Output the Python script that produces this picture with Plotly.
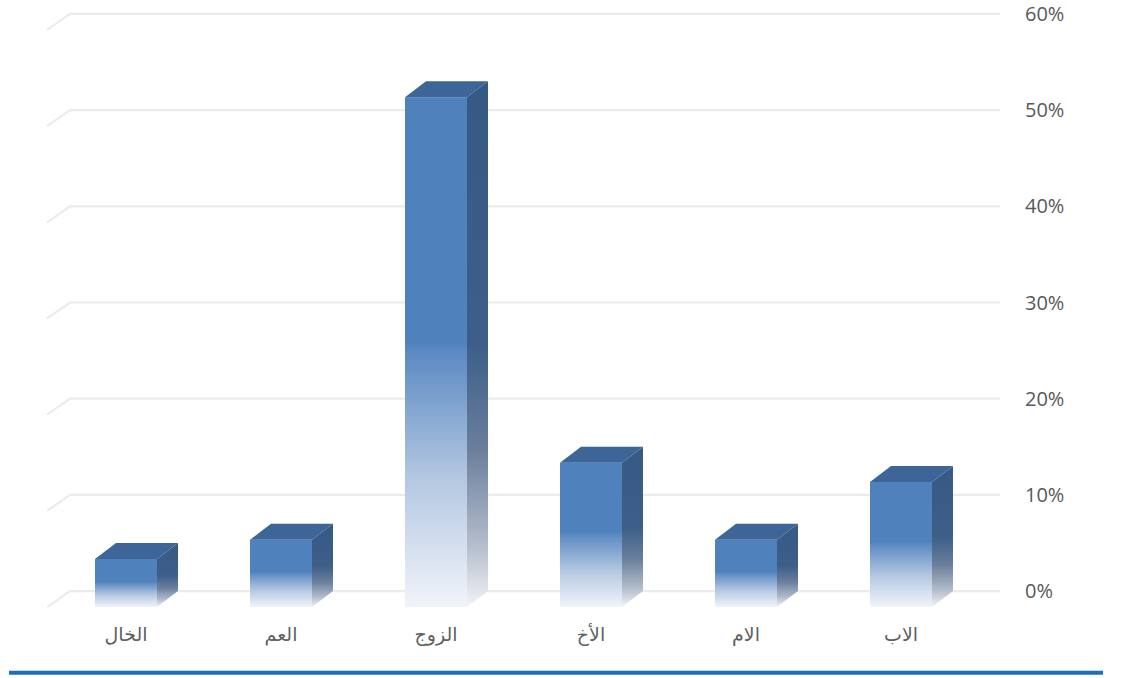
import plotly.graph_objects as go

# ---- data ----
categories = ["الخال", "العم", "الزوج", "الأخ", "الام", "الاب"]
values = [0.05, 0.07, 0.53, 0.15, 0.07, 0.13]
tick_values = [0, 0.1, 0.2, 0.3, 0.4, 0.5, 0.6]
tick_labels = ["0%", "10%", "20%", "30%", "40%", "50%", "60%"]

# ---- geometry (in data units) ----
HALF_W = 0.2      # half width of front face (category units)
DX = 0.1355       # depth offset in x
DY = 0.0166       # depth offset in y
PX_PER_UNIT = 965.0
TOP_M, BOT_M = 0, 66
Y_RANGE = [(591 - (678 - BOT_M)) / PX_PER_UNIT, (591 - TOP_M) / PX_PER_UNIT]
X_RANGE = [-0.6839, 5.6387]

FRONT = "#4F81BD"
SIDE = "#375A85"
TOP = "#3E6597"

front_scale = [[0.0, "#F1F4FA"], [0.25, "#B4C8E2"], [0.5, "#5C8AC3"], [0.52, FRONT], [1.0, FRONT]]
side_scale = [[0.0, "#F2F3F6"], [0.12, "#B2BCCB"], [0.3, "#6A7F9C"], [0.5, "#3C5E88"], [1.0, SIDE]]

fig = go.Figure()

# gridlines on back wall + left wall diagonal
grid_x_front = -0.5097
grid_x_back = -0.3613
for t in tick_values:
    fig.add_trace(go.Scatter(
        x=[grid_x_front, grid_x_back, X_RANGE[1]],
        y=[t - DY, t, t],
        mode="lines",
        line=dict(color="#EBEBEB", width=2.2),
        hoverinfo="skip", showlegend=False, cliponaxis=False,
    ))

for i, v in enumerate(values):
    xl, xr = i - HALF_W, i + HALF_W
    # side face
    fig.add_trace(go.Scatter(
        x=[xr, xr + DX, xr + DX, xr, xr],
        y=[-DY, 0, v, v - DY, -DY],
        mode="lines", line=dict(width=0), fill="toself",
        fillgradient=dict(type="vertical", colorscale=side_scale),
        hoverinfo="skip", showlegend=False,
    ))
    # front face
    fig.add_trace(go.Scatter(
        x=[xl, xr, xr, xl, xl],
        y=[-DY, -DY, v - DY, v - DY, -DY],
        mode="lines", line=dict(width=0), fill="toself",
        fillgradient=dict(type="vertical", colorscale=front_scale),
        name=categories[i], hovertemplate="%{fullData.name}<extra></extra>",
        showlegend=False,
    ))
    # top face
    fig.add_trace(go.Scatter(
        x=[xl, xr, xr + DX, xl + DX, xl],
        y=[v - DY, v - DY, v, v, v - DY],
        mode="lines", line=dict(width=0), fill="toself",
        fillcolor=TOP,
        hoverinfo="skip", showlegend=False,
    ))

plot_h = 678 - TOP_M - BOT_M
line_y = (678 - BOT_M - 673) / plot_h

fig.update_layout(
    width=1123, height=678,
    margin=dict(l=20, r=123, t=TOP_M, b=BOT_M),
    paper_bgcolor="white", plot_bgcolor="white",
    showlegend=False,
    xaxis=dict(
        range=X_RANGE, showgrid=False, zeroline=False, showline=False,
        tickmode="array", tickvals=list(range(len(categories))), ticktext=categories,
        tickfont=dict(family="DejaVu Sans", size=19, color="#5f5f5f"),
        ticks="", ticklabelstandoff=9, fixedrange=True,
        ticklabeloverflow="allow",
    ),
    yaxis=dict(
        range=Y_RANGE, side="right", showgrid=False, zeroline=False, showline=False,
        tickmode="array", tickvals=tick_values, ticktext=tick_labels,
        tickfont=dict(family="Open Sans", size=20, color="#595959"),
        ticks="", ticklabelstandoff=24, fixedrange=True,
        ticklabeloverflow="allow",
    ),
    shapes=[dict(
        type="line", xref="paper", yref="paper",
        x0=(9 - 20) / 980, x1=(1103 - 20) / 980,
        y0=line_y, y1=line_y,
        line=dict(color="#1F6EB6", width=4),
    )],
)

fig.write_html(
    "out.html",
    config={"displayModeBar": False},
    post_script="document.body.style.margin='0';document.body.style.overflow='hidden';",
)
